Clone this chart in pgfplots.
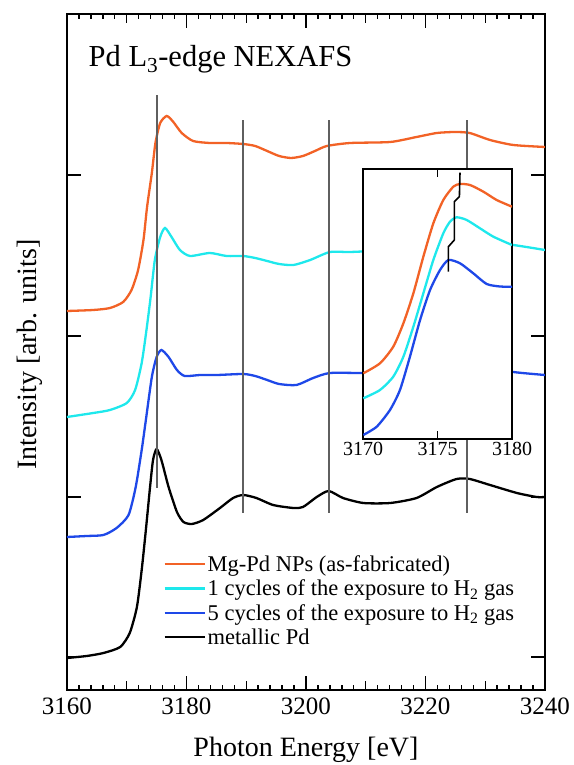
\documentclass[border=0pt]{standalone}
\usepackage{fontspec}
\setmainfont{Liberation Serif}
\usepackage{pgfplots}
\pgfplotsset{compat=1.18}
\definecolor{cOr}{RGB}{242,98,38}
\definecolor{cCy}{RGB}{30,232,236}
\definecolor{cBl}{RGB}{30,72,232}
\definecolor{cGr}{RGB}{95,95,95}

\begin{document}
\begin{tikzpicture}
\path[use as bounding box] (-67bp,-75bp) rectangle (507bp,690bp);
\begin{axis}[
  at={(0,0)}, anchor=south west,
  width=478bp, height=676bp, scale only axis,
  xmin=3160, xmax=3240, ymin=0, ymax=676,
  xtick={3160,3180,...,3240},
  minor x tick num=9,
  extra x ticks={3170,3190,3210,3230}, extra x tick labels={},
  extra x tick style={major tick length=9bp},
  ytick={33,193,354,515}, yticklabels={},
  major tick length=14bp, minor tick length=5bp,
  axis line style={line width=2.2bp},
  every tick/.style={black, line width=1.4bp},
  tick label style={font=\fontsize{25bp}{27bp}\selectfont},
  xticklabel style={yshift=-4bp},
  /pgf/number format/assume math mode=true,
  /pgf/number format/set thousands separator={},
  xlabel={Photon Energy [eV]},
  ylabel={Intensity [arb. units]},
  label style={font=\fontsize{28bp}{30bp}\selectfont},
  xlabel style={at={(axis description cs:0.5,-0.088)}, anchor=center},
  ylabel style={at={(axis description cs:-0.077,0.496)}, anchor=center},
  legend style={at={(axis description cs:0.195,0.205)}, anchor=north west,
    draw=none, fill=none, font=\fontsize{22.5bp}{24bp}\selectfont, row sep=3bp},
  legend cell align=left,
  legend image code/.code={\draw[#1] (0bp,0bp) -- (40bp,0bp);},
  every axis plot/.append style={line width=2.3bp},
]
\addplot[cOr, smooth, tension=0.4] coordinates {
(3160,379) (3164.4,380) (3167.2,382) (3169.4,388) (3170.8,400) (3171.9,420)
(3172.8,450) (3173.4,483) (3174.2,517) (3174.8,547) (3175.6,567) (3176.7,574)
(3177.8,568) (3179.2,557) (3181.1,549) (3183.9,547) (3186.7,547) (3189.5,546)
(3191.5,544) (3193.5,539) (3195.5,534) (3197.5,532) (3199.5,534) (3201.5,539)
(3203.5,544) (3207.4,547) (3214.1,548) (3218.5,553) (3221.9,557) (3224.9,558)
(3227.4,557) (3230.8,550) (3234.7,545) (3240,543)};
\addlegendentry{Mg-Pd NPs (as-fabricated)}
\addplot[cCy, smooth, tension=0.4] coordinates {
(3160,273) (3164.4,277) (3167.2,280) (3170.0,287) (3171.4,300) (3172.5,327)
(3173.3,360) (3174.0,393) (3174.7,430) (3175.6,453) (3176.4,462) (3177.5,453)
(3178.9,440) (3180.6,434) (3183.9,437) (3186.7,434) (3189.5,434) (3191.5,432)
(3193.5,429) (3195.5,426) (3197.9,425) (3200.7,430) (3204.0,438) (3207.4,438)
(3214,440) (3220,444) (3226,448) (3231,447) (3234.7,445) (3240,440)};
\addlegendentry{1 cycles of the exposure to H\textsubscript{2} gas}
\addplot[cBl, smooth, tension=0.4] coordinates {
(3160,153) (3163.3,154) (3166.1,155) (3168.3,162) (3170.3,175) (3171.5,203)
(3172.5,240) (3173.2,270) (3174.2,313) (3175.0,333) (3175.8,340) (3177.0,333)
(3178.4,320) (3179.7,314) (3182.3,315) (3185.1,315) (3189.5,316) (3191.5,314)
(3193.5,310) (3195.5,306) (3198.4,305) (3201.2,312) (3204.0,317) (3209.6,317)
(3215,318) (3221,322) (3227,325) (3231,323) (3234.7,318) (3240,315)};
\addlegendentry{5 cycles of the exposure to H\textsubscript{2} gas}
\addplot[black, smooth, tension=0.4] coordinates {
(3160,32) (3163.3,34) (3166.1,37) (3168.9,43) (3170.5,57) (3171.7,83)
(3172.5,120) (3173.2,160) (3173.9,203) (3174.4,230) (3175.0,241) (3175.8,230)
(3177.0,203) (3178.4,178) (3179.5,168) (3180.9,166) (3182.8,170) (3185.6,182)
(3187.8,192) (3189.5,195) (3191.7,192) (3194.5,185) (3197.9,182) (3199.5,183)
(3201.8,193) (3203.8,199) (3206.2,192) (3209.6,187) (3214.1,187) (3218.5,192)
(3221.9,203) (3225.2,211) (3227.4,211) (3230.8,205) (3235.3,197) (3238.6,193)
(3240,193)};
\addlegendentry{metallic Pd}
% reference lines
\addplot[cGr, line width=1.8bp, forget plot] coordinates {(3175,202) (3175,595)};
\addplot[cGr, line width=1.8bp, forget plot] coordinates {(3189.5,177) (3189.5,570)};
\addplot[cGr, line width=1.8bp, forget plot] coordinates {(3203.8,177) (3203.8,570)};
\addplot[cGr, line width=1.8bp, forget plot] coordinates {(3227,177) (3227,570)};
\node[anchor=base west, font=\fontsize{30.5bp}{32bp}\selectfont]
  at (rel axis cs:0.038,0.9216) {Pd L\textsubscript{3}-edge NEXAFS};
\end{axis}

% inset
\begin{axis}[
  at={(296bp,251bp)}, anchor=south west,
  width=149bp, height=270bp, scale only axis,
  xmin=3170, xmax=3180, ymin=0, ymax=270,
  xtick={3170,3175,3180}, ytick=\empty,
  axis background/.style={fill=white},
  axis line style={line width=1.6bp},
  major tick length=8bp,
  every tick/.style={black, line width=1.3bp},
  tick label style={font=\fontsize{20bp}{22bp}\selectfont},
  /pgf/number format/assume math mode=true,
  /pgf/number format/set thousands separator={},
  every axis plot/.append style={line width=2.3bp},
]
\addplot[cOr, smooth, tension=0.4] coordinates {
(3170.02,65.7) (3171.14,75.7) (3172.03,92.3) (3172.71,115.7) (3173.38,145.7)
(3174.05,182.3) (3174.72,215.7) (3175.39,239) (3176.06,252.3) (3176.51,255)
(3177.18,254) (3178.08,247.3) (3178.97,239) (3180,232.3)};
\addplot[cCy, smooth, tension=0.4] coordinates {
(3170.02,40.7) (3171.14,49) (3172.03,62.3) (3172.71,82.3) (3173.38,112.3)
(3174.05,145.7) (3174.72,179) (3175.39,205.7) (3175.84,217.3) (3176.29,221.7)
(3176.96,219) (3177.85,210.7) (3178.75,202.3) (3180,194)};
\addplot[cBl, smooth, tension=0.4] coordinates {
(3170.02,4) (3170.92,12.3) (3171.81,29) (3172.48,49) (3173.15,82.3)
(3173.83,119) (3174.50,149) (3175.17,169) (3175.73,179) (3176.51,175.7)
(3177.40,165.7) (3178.30,155) (3179.19,152.5) (3180,152.3)};
\addplot[black, line width=1.6bp] coordinates {
(3176.51,266.3) (3176.47,242.3) (3176.13,237.3) (3176.13,199)
(3175.73,192.3) (3175.73,167.3)};
\end{axis}
\end{tikzpicture}
\end{document}
